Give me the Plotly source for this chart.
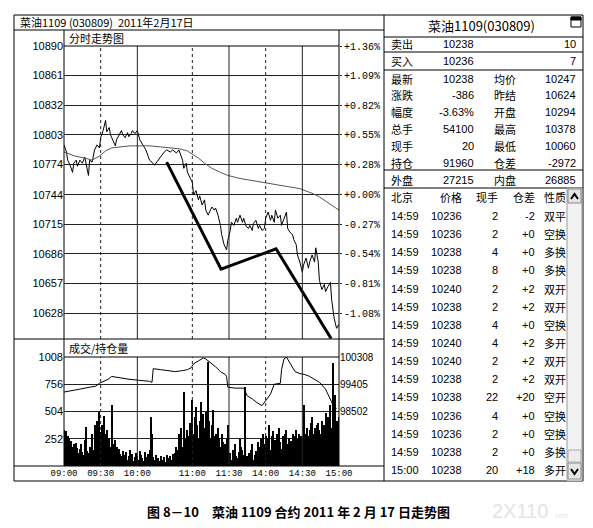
import plotly.graph_objects as go

W, H = 593, 528
def fx(x): return x / W
def fy(y): return 1 - y / H

# ---------------- data ----------------
time_ticks = [0, 30, 60, 105, 135, 165, 195, 225]
time_labels = ["09:00", "09:30", "10:00", "11:00", "11:30", "14:00", "14:30", "15:00"]
solid_grid = [60, 135, 195]
dotted_grid = [30, 105, 165]

price_ticks = [10628, 10657, 10686, 10715, 10744, 10774, 10803, 10832, 10861, 10890]
pct_labels = ["-1.08%", "-0.81%", "-0.54%", "-0.27%", "+0.00%", "+0.28%", "+0.55%", "+0.82%", "+1.09%", "+1.36%"]
vol_ticks = [252, 504, 756, 1008]
oi_ticks = [98502, 99405, 100308]

price_t = [0, 2, 3, 5, 7, 8, 10, 11, 13, 15, 17, 20, 21, 23, 25, 27, 29, 30, 32, 34, 35, 37, 38, 40, 42, 43,
           45, 47, 48, 50, 52, 53, 55, 56, 58, 60, 62, 65, 67, 70, 72, 74, 77, 79, 82, 84, 87, 89, 92, 94,
           97, 98, 100, 101, 103, 105, 106, 108, 110, 111, 113, 115, 116, 118, 119, 121, 123, 124, 126, 128,
           129, 131, 133, 134, 136, 137, 139, 141, 142, 144, 146, 147, 149, 151, 152, 154, 155, 157, 159, 160,
           162, 164, 165, 167, 169, 170, 172, 173, 175, 177, 178, 180, 182, 183, 185, 187, 188, 190, 191, 193,
           195, 196, 198, 200, 201, 203, 205, 206, 208, 209, 211, 213, 214, 216, 218, 219, 221, 223, 225]
price_v = [10793, 10786, 10778, 10773, 10766, 10775, 10778, 10772, 10778, 10775, 10781, 10763, 10778, 10776,
           10788, 10793, 10790, 10800, 10807, 10817, 10806, 10810, 10803, 10798, 10792, 10798, 10803, 10807,
           10803, 10800, 10805, 10801, 10804, 10807, 10804, 10807, 10798, 10792, 10788, 10778, 10776, 10773,
           10778, 10781, 10786, 10788, 10786, 10788, 10785, 10788, 10778, 10770, 10775, 10766, 10761, 10756,
           10744, 10748, 10739, 10743, 10734, 10739, 10729, 10724, 10727, 10732, 10729, 10731, 10724, 10714,
           10705, 10695, 10690, 10699, 10709, 10717, 10714, 10721, 10717, 10724, 10717, 10721, 10713, 10711,
           10714, 10709, 10716, 10719, 10711, 10714, 10709, 10711, 10721, 10727, 10719, 10724, 10717, 10729,
           10721, 10724, 10714, 10721, 10727, 10711, 10707, 10705, 10700, 10695, 10685, 10678, 10668, 10675,
           10682, 10672, 10678, 10685, 10678, 10692, 10678, 10660, 10651, 10656, 10649, 10654, 10658, 10641,
           10623, 10613, 10617]

avg_t = [0, 9, 17, 23, 29, 34, 39, 46, 54, 62, 70, 79, 87, 95, 101, 105, 110, 115, 121, 128, 134, 144,
         163, 182, 193, 204, 209, 215, 222, 225]
avg_v = [10786, 10782, 10780, 10778, 10782, 10787, 10790, 10791, 10792, 10792, 10792, 10791, 10790, 10789,
         10787, 10784, 10780, 10775, 10770, 10766, 10763, 10760, 10756, 10752, 10750, 10745, 10742, 10737,
         10731, 10729]

trend_t = [84, 128.5, 173.5, 218.5]
trend_v = [10776, 10671, 10691, 10603]

volume = [330, 300, 320, 280, 250, 200, 230, 180, 200, 150,
          210, 170, 120, 160, 200, 130, 100, 240, 360, 140,
          120, 180, 90, 300, 150, 380, 290, 420, 200, 500,
          310, 380, 250, 460, 300, 330, 210, 260, 180, 565,
          200, 150, 240, 180, 120, 160, 110, 90, 140, 80,
          100, 130, 60, 90, 150, 70, 110, 50, 80, 120,
          90, 60, 140, 100, 70, 50, 130, 80, 60, 110,
          150, 450, 300, 80, 60, 100, 40, 70, 50, 90,
          30, 60, 80, 40, 100, 70, 50, 90, 60, 110,
          80, 120, 180, 150, 300, 220, 350, 180, 680, 250,
          200, 330, 280, 400, 220, 610, 300, 450, 545, 380,
          250, 420, 590, 330, 480, 350, 500, 300, 960, 420,
          250, 380, 520, 280, 300, 200, 350, 250, 180, 300,
          220, 150, 200, 250, 380, 80, 120, 60, 150, 100,
          200, 90, 70, 130, 250, 180, 150, 100, 730, 60,
          90, 120, 80, 150, 200, 60, 100, 140, 90, 220,
          180, 250, 150, 300, 200, 280, 200, 250, 380, 150,
          280, 320, 180, 240, 300, 200, 350, 220, 160, 280,
          250, 300, 330, 200, 260, 180, 230, 300, 220, 280,
          330, 250, 300, 200, 280, 260, 565, 300, 250, 350,
          280, 330, 400, 455, 300, 350, 250, 380, 400, 330,
          300, 420, 350, 380, 490, 300, 450, 400, 565, 350,
          950, 500, 660, 420, 380, 450]

oi_t = [0, 5, 13, 21, 26, 29, 33, 36, 39, 43, 47, 54, 62, 70, 72, 73, 79, 85, 91, 97, 101, 104, 106, 110,
        114, 116, 119, 124, 128, 132, 133, 134, 140, 147, 150, 154, 158, 162, 165, 169, 172, 177, 178, 180,
        182, 185, 189, 193, 197, 201, 205, 209, 214, 217, 220, 223]
oi_v = [99147, 99179, 99244, 99308, 99340, 99437, 99502, 99566, 99663, 99631, 99598, 99566, 99534, 99502,
        99469, 99921, 99889, 99856, 99824, 99856, 99889, 99953, 100082, 100179, 100276, 100243, 100147,
        99985, 99824, 99727, 99663, 99308, 99276, 99276, 99018, 98921, 98792, 98696, 98857, 99082, 99405,
        99437, 99889, 100243, 100308, 100082, 99824, 99760, 99727, 99663, 99566, 99469, 99244, 98986,
        98728, 98599]

title_left = "菜油1109 (030809)  2011年2月17日"
title_right = "菜油1109(030809)"
caption = "图 8－10　菜油 1109 合约 2011 年 2 月 17 日走势图"

bid_ask = [("卖出", "10238", "10"), ("买入", "10236", "7")]
stat_l = ["最新", "涨跌", "幅度", "总手", "现手", "持仓"]
stat_lv = ["10238", "-386", "-3.63%", "54100", "20", "91960"]
stat_r = ["均价", "昨结", "开盘", "最高", "最低", "仓差"]
stat_rv = ["10247", "10624", "10294", "10378", "10060", "-2972"]
outer_inner = ["外盘", "27215", "内盘", "26885"]
tick_head = ["北京", "价格", "现手", "仓差", "性质"]
tick_time = ["14:59"] * 14 + ["15:00"]
tick_price = ["10236", "10236", "10238", "10238", "10240", "10238", "10238", "10240", "10240", "10238",
              "10238", "10236", "10236", "10238", "10238"]
tick_vol = ["2", "2", "4", "8", "2", "2", "4", "4", "2", "2", "22", "4", "2", "2", "20"]
tick_oi = ["-2", "+0", "+0", "+0", "+2", "+2", "+0", "+2", "+2", "+2", "+20", "+0", "+0", "+0", "+18"]
tick_kind = ["双平", "空换", "多换", "多换", "双开", "双开", "空换", "多开", "双开", "双开", "空开", "空换",
             "空换", "多换", "多开"]

# ---------------- figure ----------------
CJK = "Noto Sans CJK SC"
SANS = "Liberation Sans, Arial"
MONO = "Liberation Mono, monospace"

fig = go.Figure()
fig.add_trace(go.Scatter(x=avg_t, y=avg_v, mode="lines", line=dict(color="#555", width=1),
                         xaxis="x", yaxis="y2", hoverinfo="skip"))
fig.add_trace(go.Scatter(x=price_t, y=price_v, mode="lines", line=dict(color="black", width=1),
                         xaxis="x", yaxis="y", hoverinfo="skip"))
fig.add_trace(go.Scatter(x=trend_t, y=trend_v, mode="lines", line=dict(color="black", width=3),
                         xaxis="x", yaxis="y", hoverinfo="skip"))
fig.add_trace(go.Bar(x=list(range(len(volume))), y=volume, marker=dict(color="black", line=dict(width=0)),
                     width=0.8, xaxis="x2", yaxis="y3", hoverinfo="skip"))
fig.add_trace(go.Scatter(x=oi_t, y=oi_v, mode="lines", line=dict(color="black", width=1),
                         xaxis="x2", yaxis="y4", hoverinfo="skip"))

xdom = [fx(64), fx(339)]
grid = "#222"
fig.update_layout(
    template="none", width=W, height=H, margin=dict(l=0, r=0, t=0, b=0),
    showlegend=False, plot_bgcolor="white", paper_bgcolor="white", bargap=0,
    xaxis=dict(domain=xdom, range=[0, 225], anchor="y", showticklabels=False, showgrid=False,
               zeroline=False, showline=False, ticks=""),
    yaxis=dict(domain=[fy(339), fy(46)], range=[10602.5, 10890], anchor="x", tickvals=price_ticks,
               ticktext=[str(v) for v in price_ticks], showgrid=True, gridcolor=grid, gridwidth=1,
               zeroline=False, showline=False, ticks="", tickfont=dict(family=SANS, size=11, color="black")),
    yaxis2=dict(overlaying="y", side="right", anchor="x", range=[10602.5, 10890], tickvals=price_ticks,
                ticktext=pct_labels, showgrid=False, zeroline=False, showline=False, ticks="outside",
                ticklen=2, tickcolor=grid, tickfont=dict(family=MONO, size=10, color="black")),
    xaxis2=dict(domain=xdom, range=[0, 225], anchor="y3", tickvals=time_ticks, ticktext=time_labels,
                showgrid=False, zeroline=False, showline=False, ticks="",
                tickfont=dict(family=MONO, size=9, color="black")),
    yaxis3=dict(domain=[fy(466), fy(357)], range=[0, 1008], anchor="x2", tickvals=vol_ticks,
                showgrid=True, gridcolor=grid, gridwidth=1, zeroline=False, showline=False, ticks="",
                tickfont=dict(family=SANS, size=11, color="black")),
    yaxis4=dict(overlaying="y3", side="right", anchor="x2", range=[100308 - 4 * 903, 100308],
                tickvals=oi_ticks, ticktext=[str(v) for v in oi_ticks], showgrid=False, zeroline=False,
                showline=False, ticks="", tickfont=dict(family=SANS, size=10, color="black")),
)

shapes = []
def line(x0, y0, x1, y1, w=1, color="black", dash="solid"):
    shapes.append(dict(type="line", xref="paper", yref="paper", x0=fx(x0), y0=fy(y0), x1=fx(x1), y1=fy(y1),
                       line=dict(color=color, width=w, dash=dash)))

# vertical time grid lines (from the time arrays)
for v in solid_grid:
    shapes.append(dict(type="line", xref="x", yref="y domain", x0=v, x1=v, y0=0, y1=1, line=dict(color=grid, width=1)))
    shapes.append(dict(type="line", xref="x2", yref="y3 domain", x0=v, x1=v, y0=0, y1=1, line=dict(color=grid, width=1)))
for v in dotted_grid:
    shapes.append(dict(type="line", xref="x", yref="y domain", x0=v, x1=v, y0=0, y1=1, line=dict(color=grid, width=1, dash="dot")))
    shapes.append(dict(type="line", xref="x2", yref="y3 domain", x0=v, x1=v, y0=0, y1=1, line=dict(color=grid, width=1, dash="dot")))

# frames
line(14, 15, 583, 15)
line(14, 481, 583, 481)
line(14, 15, 14, 481)
line(583, 15, 583, 481)
line(384, 15, 384, 481)
line(14, 30, 384, 30)
line(64, 30, 64, 466)
line(339, 30, 339, 466)
line(64, 46, 339, 46)
line(14, 339, 384, 339)
line(64, 357, 339, 357)
line(14, 466, 384, 466)
for yy in [37, 52, 70, 170, 188]:
    line(384, yy, 583, yy)
# scrollbar
shapes.append(dict(type="rect", xref="paper", yref="paper", x0=fx(567), x1=fx(582), y0=fy(481), y1=fy(188),
                   line=dict(color="#999", width=1), fillcolor="#f2f2f2"))
for (a, b) in [(189, 203), (463, 479)]:
    shapes.append(dict(type="rect", xref="paper", yref="paper", x0=fx(568), x1=fx(581), y0=fy(b), y1=fy(a),
                       line=dict(color="#888", width=1), fillcolor="#e6e6e6"))
shapes.append(dict(type="rect", xref="paper", yref="paper", x0=fx(568), x1=fx(581), y0=fy(462), y1=fy(450),
                   line=dict(color="#aaa", width=1), fillcolor="#ececec"))
shapes.append(dict(type="path", xref="paper", yref="paper",
                   path=f"M {fx(571)} {fy(199)} L {fx(574.5)} {fy(194)} L {fx(578)} {fy(199)}",
                   line=dict(color="black", width=2)))
shapes.append(dict(type="path", xref="paper", yref="paper",
                   path=f"M {fx(571)} {fy(469)} L {fx(574.5)} {fy(474)} L {fx(578)} {fy(469)}",
                   line=dict(color="black", width=2)))
# window icon
shapes.append(dict(type="rect", xref="paper", yref="paper", x0=fx(571), x1=fx(581), y0=fy(27), y1=fy(17),
                   line=dict(color="black", width=1), fillcolor="white"))
shapes.append(dict(type="rect", xref="paper", yref="paper", x0=fx(571), x1=fx(581), y0=fy(20), y1=fy(17),
                   line=dict(color="black", width=1), fillcolor="black"))
fig.update_layout(shapes=shapes)

ann = []
def text(x, y, s, anchor="left", size=11, family=CJK, color="black"):
    ann.append(dict(x=fx(x), y=fy(y), xref="paper", yref="paper", text=s, showarrow=False, xanchor=anchor,
                    yanchor="middle", font=dict(family=family, size=size, color=color)))

text(18, 22.5, title_left, size=11)
text(67, 38, "分时走势图", size=11)
text(67, 348, "成交/持仓量", size=11)
text(481, 26, title_right, anchor="center", size=13)

NUMF = "Liberation Sans, Arial, Noto Sans CJK SC"
for i, (lab, v1, v2) in enumerate(bid_ask):
    yy = [44, 61][i]
    text(389, yy, lab, size=11)
    text(476, yy, v1, anchor="right", size=11, family=NUMF)
    text(578, yy, v2, anchor="right", size=11, family=NUMF)
for i in range(len(stat_l)):
    yy = 78.5 + i * 16.8
    text(389, yy, stat_l[i], size=11)
    text(476, yy, stat_lv[i], anchor="right", size=11, family=NUMF)
    text(492, yy, stat_r[i], size=11)
    text(578, yy, stat_rv[i], anchor="right", size=11, family=NUMF)
text(389, 179.5, outer_inner[0], size=11)
text(476, 179.5, outer_inner[1], anchor="right", size=11, family=NUMF)
text(492, 179.5, outer_inner[2], size=11)
text(578, 179.5, outer_inner[3], anchor="right", size=11, family=NUMF)

col_x = [389, 464, 500, 537, 542]
col_anchor = ["left", "right", "right", "right", "left"]
for j, h in enumerate(tick_head):
    text(col_x[j], 197, h, anchor=col_anchor[j], size=11)
for i in range(len(tick_time)):
    yy = 216 + i * 18.14
    row = [tick_time[i], tick_price[i], tick_vol[i], tick_oi[i], tick_kind[i]]
    for j, s in enumerate(row):
        text(col_x[j], yy, s, anchor=col_anchor[j], size=11, family=NUMF if j < 4 else CJK)

text(298, 511, "<b>" + caption + "</b>", anchor="center", size=13)
text(490, 511, "2X110", size=20, family=SANS, color="#e4e4e4")
text(553, 515, "com", size=7, family=SANS, color="#e4e4e4")
fig.update_layout(annotations=ann)

fig.write_html("out.html", config={"displayModeBar": False},
               post_script="document.body.style.margin='0';document.body.style.overflow='hidden';")
